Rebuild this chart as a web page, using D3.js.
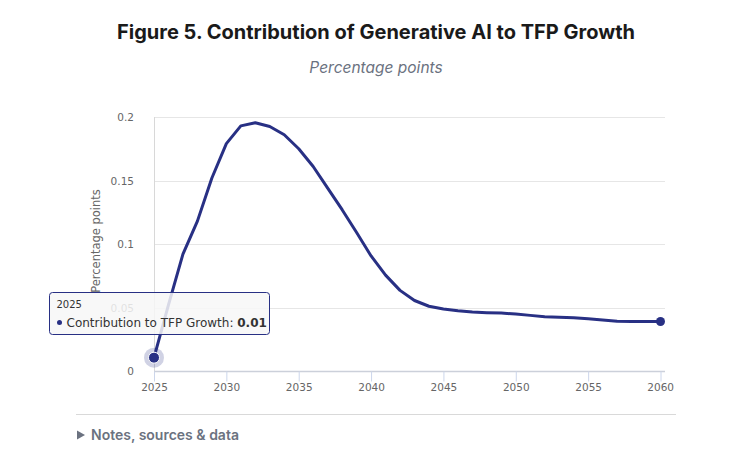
<!DOCTYPE html>
<html>
<head>
<meta charset="UTF-8">
<title>Figure 5. Contribution of Generative AI to TFP Growth</title>
<script src="https://cdn.jsdelivr.net/npm/d3@7"></script>
<style>
  body { margin: 0; background: #fff; }
</style>
</head>
<body>
<script>
// yearly values
var years = [2025,2026,2027,2028,2029,2030,2031,2032,2033,2034,2035,2036,2037,2038,2039,2040,2041,2042,2043,2044,2045,2046,2047,2048,2049,2050,2051,2052,2053,2054,2055,2056,2057,2058,2059,2060];
var values = [0.0105,0.052,0.092,0.118,0.152,0.179,0.193,0.1955,0.1925,0.186,0.175,0.161,0.144,0.127,0.109,0.0906,0.0755,0.0635,0.0555,0.051,0.0488,0.0474,0.0464,0.0459,0.0456,0.0448,0.0438,0.0428,0.0423,0.042,0.0412,0.0402,0.0392,0.039,0.039,0.039];
var xTicks = [2025,2030,2035,2040,2045,2050,2055,2060];
var yTicks = [0, 0.05, 0.1, 0.15, 0.2];
var seriesName = "Contribution to TFP Growth";

var W = 734, H = 454;
var pLeft = 154, pRight = 665, pTop = 117, pBottom = 371;
var lineColor = "#283084";

var svg = d3.select("body").append("svg")
  .attr("width", W).attr("height", H);

svg.append("text")
  .attr("x", 376).attr("y", 39)
  .attr("text-anchor", "middle")
  .attr("font-family", "Inter, 'Noto Sans', sans-serif")
  .attr("font-weight", "700")
  .attr("font-size", "20px")
  .attr("fill", "#1a1a1a")
  .text("Figure 5. Contribution of Generative AI to TFP Growth");

svg.append("text")
  .attr("x", 376).attr("y", 73)
  .attr("text-anchor", "middle")
  .attr("font-family", "Inter, 'Noto Sans', sans-serif")
  .attr("font-style", "italic")
  .attr("font-size", "15.5px")
  .attr("fill", "#6b7280")
  .text("Percentage points");

var x = d3.scaleLinear().domain([2025, 2060]).range([pLeft, 660.5]);
var y = d3.scaleLinear().domain([0, 0.2]).range([pBottom, pTop]);

// gridlines
svg.append("g").selectAll("line")
  .data(yTicks.filter(function(d){ return d > 0; }))
  .enter().append("line")
  .attr("x1", pLeft).attr("x2", pRight)
  .attr("y1", function(d){ return Math.round(y(d)) + 0.5; })
  .attr("y2", function(d){ return Math.round(y(d)) + 0.5; })
  .attr("stroke", "#e6e6e6").attr("stroke-width", 1);

// y axis line
svg.append("line")
  .attr("x1", pLeft + 0.5).attr("x2", pLeft + 0.5)
  .attr("y1", pTop).attr("y2", pBottom)
  .attr("stroke", "#d8d8d8");

// y tick labels
svg.append("g").selectAll("text")
  .data(yTicks)
  .enter().append("text")
  .attr("x", 134)
  .attr("y", function(d){ return y(d) + 4; })
  .attr("text-anchor", "end")
  .attr("font-family", "'DejaVu Sans', sans-serif")
  .attr("font-size", "10.5px")
  .attr("fill", "#666")
  .text(function(d){ return d3.format("")(d); });

// y axis title
svg.append("text")
  .attr("transform", "translate(100," + ((pTop + pBottom) / 2 - 3) + ") rotate(-90)")
  .attr("text-anchor", "middle")
  .attr("font-family", "'DejaVu Sans', sans-serif")
  .attr("font-size", "11.5px")
  .attr("fill", "#666")
  .text("Percentage points");

// x axis
var xAxis = d3.axisBottom(x).tickValues(xTicks).tickSize(10).tickFormat(d3.format("d"));
var gx = svg.append("g")
  .attr("transform", "translate(0," + (pBottom + 0.5) + ")")
  .call(xAxis);
gx.select(".domain").attr("stroke", "#ccd0da").attr("stroke-width", 1.5)
  .attr("d", "M" + pLeft + ",0H" + pRight);
gx.selectAll(".tick line").attr("stroke", "#ccd6eb");
gx.selectAll(".tick text")
  .attr("y", 12)
  .attr("font-family", "'DejaVu Sans', sans-serif")
  .attr("font-size", "10.5px")
  .attr("fill", "#666");
gx.selectAll(".tick text").filter(function(d){ return d === 2060; })
  .attr("text-anchor", "end").attr("dx", "13");

// line
var pts = years.map(function(d, i){ return [d, values[i]]; });
var line = d3.line()
  .x(function(d){ return x(d[0]); })
  .y(function(d){ return y(d[1]); });

svg.append("path")
  .datum(pts)
  .attr("d", line)
  .attr("fill", "none")
  .attr("stroke", lineColor)
  .attr("stroke-width", 3)
  .attr("stroke-linejoin", "round");

// end marker
var last = pts[pts.length - 1];
svg.append("circle")
  .attr("cx", x(last[0])).attr("cy", y(last[1]))
  .attr("r", 4.5).attr("fill", lineColor);

// hovered point
var first = pts[0];
svg.append("circle")
  .attr("cx", x(first[0])).attr("cy", y(first[1]))
  .attr("r", 10).attr("fill", lineColor).attr("fill-opacity", 0.22);
svg.append("circle")
  .attr("cx", x(first[0])).attr("cy", y(first[1]))
  .attr("r", 5.5).attr("fill", lineColor)
  .attr("stroke", "#fff").attr("stroke-width", 1);

// tooltip
var tip = svg.append("g").attr("transform", "translate(49.5,292.5)");
tip.append("rect")
  .attr("width", 220).attr("height", 42).attr("rx", 3)
  .attr("fill", "#f7f7f7").attr("fill-opacity", 0.85)
  .attr("stroke", lineColor).attr("stroke-width", 1);
tip.append("text")
  .attr("x", 7).attr("y", 15)
  .attr("font-family", "'DejaVu Sans', sans-serif")
  .attr("font-size", "10px")
  .attr("fill", "#333")
  .text(first[0]);
tip.append("circle").attr("cx", 10).attr("cy", 30).attr("r", 2.5).attr("fill", lineColor);
var t2 = tip.append("text")
  .attr("x", 17).attr("y", 34)
  .attr("font-family", "'DejaVu Sans', sans-serif")
  .attr("font-size", "12px")
  .attr("fill", "#333");
t2.append("tspan").text(seriesName + ": ");
t2.append("tspan").attr("font-weight", "700").text(d3.format(".2f")(first[1]));

// footer
svg.append("line")
  .attr("x1", 76).attr("x2", 676)
  .attr("y1", 414.5).attr("y2", 414.5)
  .attr("stroke", "#d9d9d9");
svg.append("path")
  .attr("d", "M77,430.5 L85,435 L77,439.5 Z")
  .attr("fill", "#6b7280");
svg.append("text")
  .attr("x", 91).attr("y", 440)
  .attr("font-family", "Inter, 'Noto Sans', sans-serif")
  .attr("font-weight", "600")
  .attr("font-size", "14px")
  .attr("fill", "#6b7280")
  .text("Notes, sources & data");
</script>
</body>
</html>
